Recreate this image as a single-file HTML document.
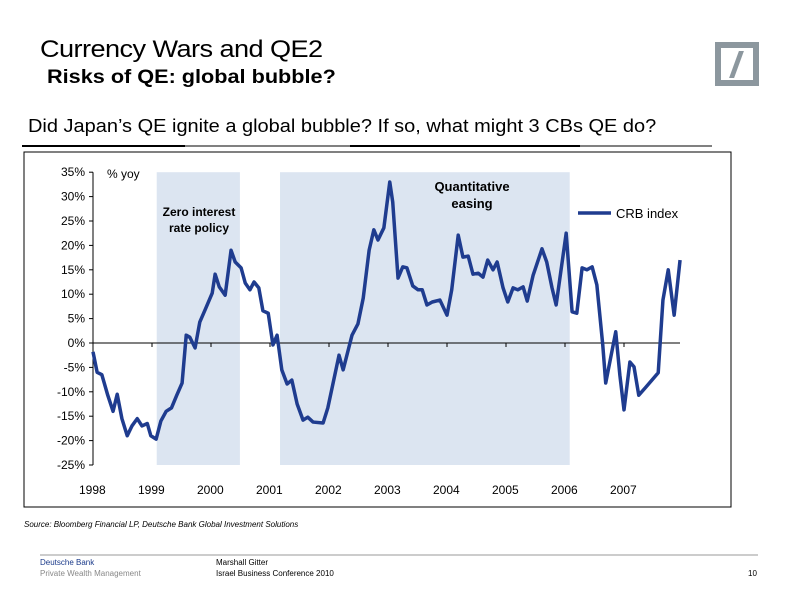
<!DOCTYPE html>
<html><head><meta charset="utf-8"><style>
body{margin:0;width:794px;height:597px;background:#fff;position:relative;overflow:hidden;font-family:"Liberation Sans",sans-serif}
.t{position:absolute;white-space:nowrap;transform-origin:left top}
</style></head><body>
<div class="t" style="left:40px;top:36px;font-size:24px;letter-spacing:-0.5px;transform:scaleX(1.13)">Currency Wars and QE2</div>
<div class="t" style="left:47px;top:67px;font-size:19px;font-weight:bold;transform:scaleX(1.14)">Risks of QE:  global bubble?</div>
<div class="t" style="left:28px;top:116px;font-size:18px;transform:scaleX(1.11)">Did Japan’s QE ignite a global bubble? If so, what might 3 CBs QE do?</div>
<div style="position:absolute;left:715px;top:42px;width:32px;height:32px;border:6px solid #8c979e"><div style="position:absolute;left:13px;top:3px;width:5px;height:27px;background:#8c979e;transform:skewX(-20deg)"></div></div>
<svg width="794" height="597" style="position:absolute;left:0;top:0">
<line x1="22" y1="146" x2="712" y2="146" stroke="#000" stroke-width="1"/>
<line x1="22" y1="146" x2="185" y2="146" stroke="#000" stroke-width="2"/>
<line x1="350" y1="146" x2="580" y2="146" stroke="#000" stroke-width="2"/>
<rect x="24" y="152" width="707" height="355" fill="none" stroke="#000" stroke-width="1"/>
<g id="g"></g>
<line x1="40" y1="555" x2="758" y2="555" stroke="#999" stroke-width="1"/>
</svg>
<div class="t" style="left:24px;top:520px;font-size:8px;font-style:italic">Source: Bloomberg Financial LP, Deutsche Bank Global Investment Solutions</div>
<div class="t" style="left:40px;top:558px;font-size:8px;color:#1a3a8a">Deutsche Bank</div>
<div class="t" style="left:40px;top:569px;font-size:8px;color:#888">Private Wealth Management</div>
<div class="t" style="left:216px;top:558px;font-size:8px">Marshall Gitter</div>
<div class="t" style="left:216px;top:569px;font-size:8px">Israel Business Conference  2010</div>
<div class="t" style="left:748px;top:569px;font-size:8px">10</div>
<script>
const years=[1998,1999,2000,2001,2002,2003,2004,2005,2006,2007];
const yTicks=[35,30,25,20,15,10,5,0,-5,-10,-15,-20,-25];
const shadeStart=[1999.08,2001.17];
const shadeEnd=[2000.49,2006.08];
const dates=[1998.00,1998.07,1998.15,1998.25,1998.34,1998.41,1998.49,1998.58,1998.66,1998.75,1998.83,1998.92,1998.98,1999.07,1999.15,1999.24,1999.33,1999.42,1999.51,1999.58,1999.64,1999.73,1999.81,1999.90,2000.02,2000.07,2000.14,2000.24,2000.34,2000.41,2000.51,2000.58,2000.66,2000.73,2000.81,2000.88,2000.97,2001.05,2001.12,2001.20,2001.29,2001.37,2001.46,2001.56,2001.64,2001.73,2001.90,2001.98,2002.17,2002.24,2002.39,2002.49,2002.58,2002.68,2002.76,2002.83,2002.93,2003.03,2003.08,2003.17,2003.25,2003.32,2003.42,2003.51,2003.58,2003.66,2003.75,2003.88,2004.00,2004.08,2004.19,2004.27,2004.36,2004.44,2004.53,2004.61,2004.69,2004.78,2004.85,2004.95,2005.03,2005.12,2005.20,2005.29,2005.36,2005.46,2005.61,2005.69,2005.78,2005.85,2006.02,2006.12,2006.20,2006.29,2006.37,2006.46,2006.54,2006.64,2006.69,2006.86,2006.93,2007.00,2007.10,2007.17,2007.25,2007.36,2007.58,2007.66,2007.75,2007.85,2007.95];
const values=[-1.8,-6,-6.5,-10.7,-14,-10.5,-15.5,-19,-17,-15.5,-17,-16.5,-19,-19.7,-16,-14,-13.3,-10.7,-8.2,1.6,1.2,-1,4.3,6.8,10.2,14.1,11.5,9.8,19,16.6,15.4,12.3,10.9,12.5,11.3,6.6,6.1,-0.4,1.6,-5.5,-8.4,-7.6,-12.5,-15.8,-15.2,-16.2,-16.4,-13.3,-2.5,-5.5,1.6,3.9,9.2,19,23.2,21.1,23.6,33,28.9,13.3,15.6,15.4,11.7,10.9,10.9,7.8,8.4,8.8,5.7,10.9,22.1,17.6,17.8,14.1,14.3,13.5,17,15,16.6,11.3,8.4,11.3,10.9,11.5,8.6,13.9,19.3,16.6,11.3,7.8,22.5,6.4,6.1,15.4,15,15.6,11.9,-0.4,-8.2,2.3,-6.6,-13.7,-3.9,-4.9,-10.7,-9.2,-6.1,8.8,15,5.7,17];
const NS='http://www.w3.org/2000/svg';
const g=document.getElementById('g');
const X=d=>93+(d-1998)*59;
const Y=v=>343-v*24.4/5;
function mk(t,a){const e=document.createElementNS(NS,t);for(const k in a)e.setAttribute(k,a[k]);g.appendChild(e);return e;}
for(let i=0;i<shadeStart.length;i++){
 const r=mk('rect',{x:X(shadeStart[i]),y:Y(35),width:X(shadeEnd[i])-X(shadeStart[i]),height:Y(-25)-Y(35),fill:'#dce5f1'});
 
 
}
mk('line',{x1:X(1998),y1:Y(35),x2:X(1998),y2:Y(-25),stroke:'#000','stroke-width':1});
mk('line',{x1:X(1998),y1:Y(0),x2:680,y2:Y(0),stroke:'#000','stroke-width':1});
yTicks.forEach(v=>{
 mk('line',{x1:X(1998)-4,y1:Y(v),x2:X(1998),y2:Y(v),stroke:'#000'});
 const t=mk('text',{x:X(1998)-8,y:Y(v)+4,'text-anchor':'end','font-size':12,fill:'#000'});
 t.textContent=v+'%';
 
 
});
years.forEach(y=>{
 mk('line',{x1:X(y),y1:Y(0),x2:X(y),y2:Y(0)+4,stroke:'#000'});
 const t=mk('text',{x:X(y)-14,y:494,'font-size':12,fill:'#000'});
 t.textContent=y;
 
 
});
const p=mk('polyline',{points:dates.map((d,i)=>X(d)+','+Y(values[i])).join(' '),fill:'none',stroke:'#1f3c8f','stroke-width':3.5,'stroke-linejoin':'round'});


function txt(s,x,y,a,name){const t=mk('text',a);t.setAttribute('x',x);t.setAttribute('y',y);t.textContent=s;}
txt('% yoy',107,178,{'font-size':12},'unit-label');
txt('Zero interest',199,216,{'font-size':12,'font-weight':'bold','text-anchor':'middle'},'annotation-zirp');
txt('rate policy',199,232,{'font-size':12,'font-weight':'bold','text-anchor':'middle'},'annotation-zirp');
txt('Quantitative',472,191,{'font-size':13,'font-weight':'bold','text-anchor':'middle'},'annotation-qe');
txt('easing',472,208,{'font-size':13,'font-weight':'bold','text-anchor':'middle'},'annotation-qe');
const l=mk('line',{x1:578,y1:213,x2:611,y2:213,stroke:'#1f3c8f','stroke-width':3.5});


txt('CRB index',616,218,{'font-size':13},'legend-label');
</script>
</body></html>
